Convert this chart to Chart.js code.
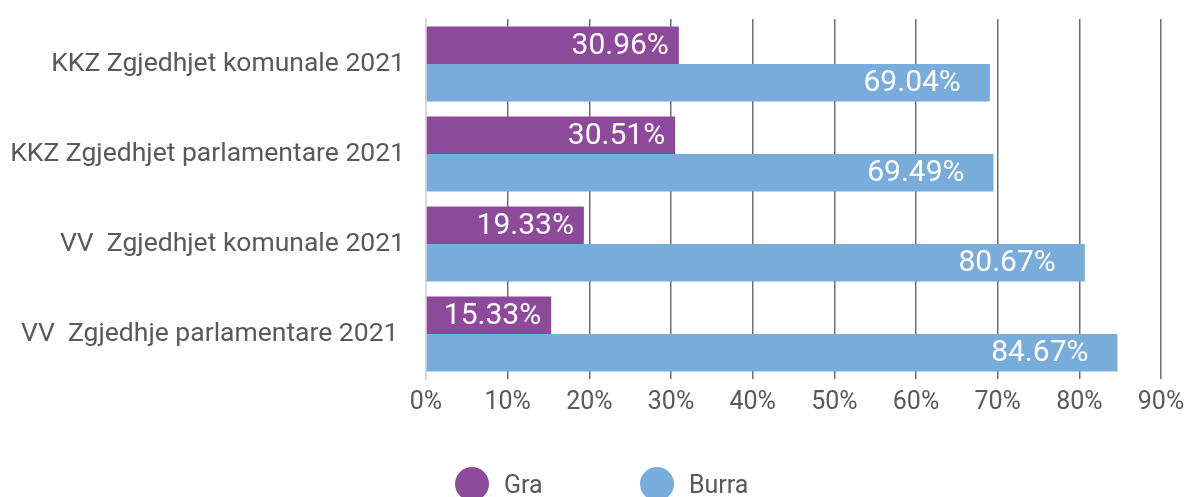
<!DOCTYPE html>
<html>
<head>
<meta charset="utf-8">
<script src="https://cdn.jsdelivr.net/npm/chart.js@4/dist/chart.umd.min.js"></script>
<style>
  html, body { margin: 0; padding: 0; background: #fff; }
  #wrap { position: relative; width: 1186px; height: 497px; overflow: hidden; }
  #legend { position: absolute; left: 0; top: 467px; width: 1186px; height: 34px; font-family: Roboto, "Liberation Sans", sans-serif; font-size: 25px; color: #595959; }
  .item { position: absolute; top: 0; height: 34px; display: flex; align-items: center; }
  .dot { width: 34px; height: 34px; border-radius: 50%; margin-right: 15px; }
</style>
</head>
<body>
<div id="wrap">
  <canvas id="chart" width="1186" height="497"></canvas>
  <div id="legend"></div>
</div>
<script>
;(function() {
  const categories = [
    'KKZ Zgjedhjet komunale 2021',
    'KKZ Zgjedhjet parlamentare 2021',
    'VV  Zgjedhjet komunale 2021',
    'VV  Zgjedhje parlamentare 2021 ',
  ];
  const graValues = [30.96, 30.51, 19.33, 15.33];
  const burraValues = [69.04, 69.49, 80.67, 84.67];
  const xTicks = [0, 10, 20, 30, 40, 50, 60, 70, 80, 90];

  const purple = '#8e4a9a';
  const blue = '#77acdb';
  const textGray = '#595959';
  const font = 'Roboto, "Liberation Sans", sans-serif';

  // white value labels near the inner end of each bar
  const valueLabels = {
    id: 'valueLabels',
    afterDatasetsDraw(chart) {
      const ctx = chart.ctx;
      ctx.save();
      ctx.fillStyle = '#fff';
      ctx.font = '30px ' + font;
      ctx.textAlign = 'right';
      ctx.textBaseline = 'middle';
      chart.data.datasets.forEach((ds, i) => {
        const inset = ds.labelInset || 14;
        chart.getDatasetMeta(i).data.forEach((bar, j) => {
          ctx.fillText(ds.data[j].toFixed(2) + '%', bar.x - inset, bar.y + 1);
        });
      });
      ctx.restore();
    }
  };

  const chart = new Chart(document.getElementById('chart'), {
    type: 'bar',
    data: {
      labels: categories,
      datasets: [
        { label: 'Gra', data: graValues, backgroundColor: purple, labelInset: 10 },
        { label: 'Burra', data: burraValues, backgroundColor: blue, labelInset: 29 },
      ]
    },
    options: {
      indexAxis: 'y',
      responsive: false,
      animation: false,
      events: [],
      categoryPercentage: 0.833,
      barPercentage: 1,
      layout: { padding: { top: 19, right: 25, bottom: 79, left: 0 } },
      plugins: {
        legend: { display: false },
        tooltip: { enabled: false },
      },
      scales: {
        x: {
          min: 0,
          max: 90,
          afterBuildTicks: axis => { axis.ticks = xTicks.map(v => ({ value: v })); },
          afterFit: axis => {
            axis.paddingLeft = 0;
            axis.paddingRight = 0;
            axis.height = 39;
          },
          ticks: {
            callback: v => v + '%',
            color: textGray,
            font: { family: font, size: 25 },
            padding: 9,
            maxRotation: 0,
          },
          grid: {
            color: c => c.index === 0 ? 'rgba(0,0,0,0)' : '#6e6e6e',
            lineWidth: 1.5,
            drawTicks: false,
          },
          border: { display: false },
        },
        y: {
          afterFit: axis => {
            axis.width = 426;
            axis.paddingTop = 0;
            axis.paddingBottom = 0;
          },
          ticks: {
            color: textGray,
            font: { family: font, size: 26.5 },
            padding: 21,
          },
          grid: { display: false, drawTicks: false },
          border: { display: true, color: '#d9d9d9', width: 2 },
        }
      }
    },
    plugins: [valueLabels],
  });

  // legend below the chart
  const legend = document.getElementById('legend');
  const legendX = [455, 640];
  chart.data.datasets.forEach((ds, i) => {
    const item = document.createElement('div');
    item.className = 'item';
    item.style.left = legendX[i] + 'px';
    item.innerHTML = '<span class="dot" style="background:' + ds.backgroundColor + '"></span><span>' + ds.label + '</span>';
    legend.appendChild(item);
  });
})();
</script>
</body>
</html>
